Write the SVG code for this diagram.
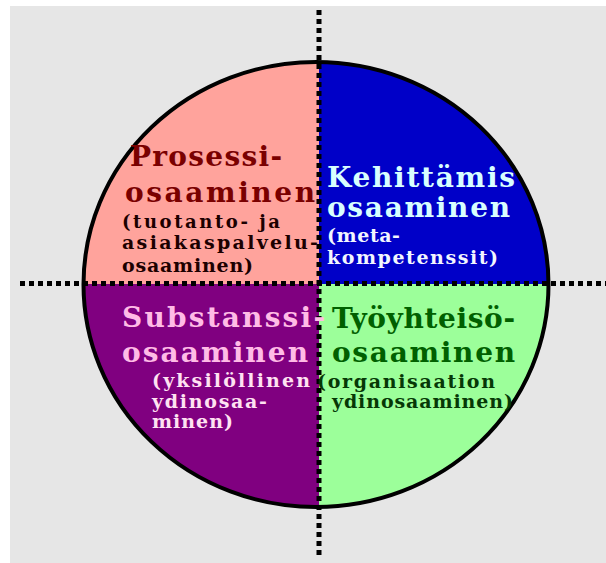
<svg xmlns="http://www.w3.org/2000/svg" width="606" height="563" viewBox="0 0 606 563">
<style>
.t{font-family:"DejaVu Serif","Liberation Serif",serif;font-weight:bold;font-size:28px}
.s{font-family:"DejaVu Serif","Liberation Serif",serif;font-weight:bold;font-size:19px}
.dot{stroke:#000;stroke-width:5;stroke-dasharray:5 4;fill:none}
</style>
<defs>
<clipPath id="c"><ellipse cx="316" cy="284.5" rx="232.5" ry="222.5"/></clipPath>
</defs>
<rect x="0" y="0" width="606" height="563" fill="#fff"/>
<rect x="10" y="6" width="596" height="557" fill="#e6e6e6"/>
<g clip-path="url(#c)">
<rect x="80" y="60" width="239" height="224" fill="#ffa39c"/>
<rect x="319" y="60" width="232" height="224" fill="#0000c8"/>
<rect x="80" y="284" width="239" height="226" fill="#800080"/>
<rect x="319" y="284" width="232" height="226" fill="#9cff9a"/>
</g>
<ellipse cx="316" cy="284.5" rx="232.5" ry="222.5" fill="none" stroke="#000" stroke-width="4"/>
<g id="connectors">
<line class="dot" x1="319" y1="10" x2="319" y2="556"/>
<line class="dot" x1="20" y1="283.5" x2="606" y2="283.5"/>
</g>
<g id="prosessi">
<text class="t" x="130" y="166" fill="#7a0000" textLength="152" lengthAdjust="spacing">Prosessi-</text>
<text class="t" x="125" y="202" fill="#7a0000" textLength="190" lengthAdjust="spacing">osaaminen</text>
<text class="s" x="122" y="228" fill="#1c0000" textLength="158" lengthAdjust="spacing" style="font-size:18px">(tuotanto-  ja</text>
<text class="s" x="122" y="249" fill="#1c0000" textLength="196" lengthAdjust="spacing">asiakaspalvelu-</text>
<text class="s" x="122" y="272" fill="#1c0000" textLength="131" lengthAdjust="spacing">osaaminen)</text>
</g>
<g id="kehittamis">
<text class="t" x="327" y="187" fill="#d8ffff" textLength="188" lengthAdjust="spacing">Kehittämis</text>
<text class="t" x="327" y="217" fill="#d8ffff" textLength="183" lengthAdjust="spacing">osaaminen</text>
<text class="s" x="327" y="242" fill="#f2f6ff" textLength="73" lengthAdjust="spacing">(meta-</text>
<text class="s" x="327" y="264" fill="#f2f6ff" textLength="171" lengthAdjust="spacing">kompetenssit)</text>
</g>
<g id="substanssi">
<text class="t" x="122" y="327" fill="#ffbbe6" textLength="203" lengthAdjust="spacing">Substanssi-</text>
<text class="t" x="122" y="362" fill="#ffbbe6" textLength="186" lengthAdjust="spacing">osaaminen</text>
<text class="s" x="152" y="387" fill="#ffe2f2" textLength="158" lengthAdjust="spacing">(yksilöllinen</text>
<text class="s" x="152" y="408" fill="#ffe2f2" textLength="115" lengthAdjust="spacing">ydinosaa-</text>
<text class="s" x="152" y="428" fill="#ffe2f2" textLength="81" lengthAdjust="spacing">minen)</text>
</g>
<g id="tyoyhteiso">
<text class="t" x="332" y="328" fill="#006000" textLength="183" lengthAdjust="spacing">Työyhteisö-</text>
<text class="t" x="332" y="362" fill="#006000" textLength="183" lengthAdjust="spacing">osaaminen</text>
<text class="s" x="317" y="388" fill="#063806" textLength="178" lengthAdjust="spacing">(organisaation</text>
<text class="s" x="332" y="408" fill="#063806" textLength="181" lengthAdjust="spacing">ydinosaaminen)</text>
</g>
</svg>
